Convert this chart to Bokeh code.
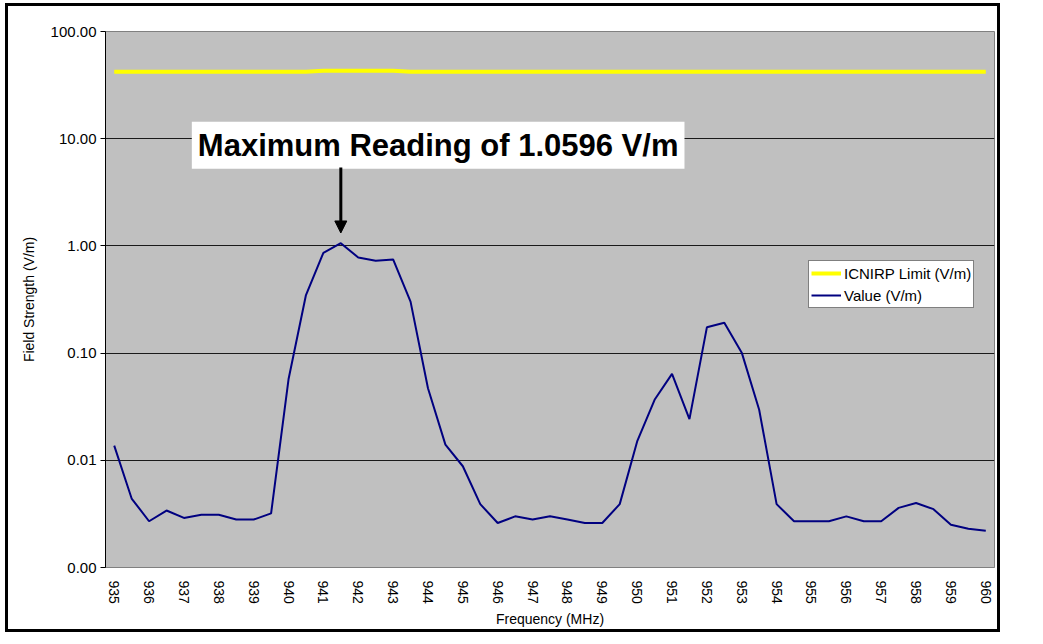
import math
from bokeh.plotting import figure
from bokeh.models import (Range1d, FixedTicker, PrintfTickFormatter, Legend,
                          LegendItem, Label, Arrow, NormalHead)
from bokeh.embed import file_html
from bokeh.resources import INLINE

FONT = "Liberation Sans"

freq = [935.0, 935.5, 936.0, 936.5, 937.0, 937.5, 938.0, 938.5, 939.0, 939.5,
        940.0, 940.5, 941.0, 941.5, 942.0, 942.5, 943.0, 943.5, 944.0, 944.5,
        945.0, 945.5, 946.0, 946.5, 947.0, 947.5, 948.0, 948.5, 949.0, 949.5,
        950.0, 950.5, 951.0, 951.5, 952.0, 952.5, 953.0, 953.5, 954.0, 954.5,
        955.0, 955.5, 956.0, 956.5, 957.0, 957.5, 958.0, 958.5, 959.0, 959.5,
        960.0]

value = [0.0137, 0.0044, 0.0027, 0.0034, 0.0029, 0.0031, 0.0031, 0.0028, 0.0028, 0.0032,
         0.057, 0.348, 0.863, 1.0596, 0.78, 0.727, 0.748, 0.302, 0.047, 0.014,
         0.0088, 0.0039, 0.0026, 0.0030, 0.0028, 0.0030, 0.0028, 0.0026, 0.0026, 0.0039,
         0.015, 0.0367, 0.064, 0.0242, 0.174, 0.192, 0.101, 0.0296, 0.0039, 0.0027,
         0.0027, 0.0027, 0.0030, 0.0027, 0.0027, 0.0036, 0.0040, 0.0035, 0.0025, 0.0023,
         0.0022]

limit = [42.2, 42.2, 42.2, 42.2, 42.2, 42.2, 42.2, 42.2, 42.2, 42.2,
         42.2, 42.2, 43.0, 43.0, 43.0, 43.0, 43.0, 42.2, 42.2, 42.2,
         42.2, 42.2, 42.2, 42.2, 42.2, 42.2, 42.2, 42.2, 42.2, 42.2,
         42.2, 42.2, 42.2, 42.2, 42.2, 42.2, 42.2, 42.2, 42.2, 42.2,
         42.2, 42.2, 42.2, 42.2, 42.2, 42.2, 42.2, 42.2, 42.2, 42.2,
         42.2]

x_ticks = [935, 936, 937, 938, 939, 940, 941, 942, 943, 944, 945, 946, 947,
           948, 949, 950, 951, 952, 953, 954, 955, 956, 957, 958, 959, 960]
y_ticks = [0.001, 0.01, 0.1, 1, 10, 100]

W, H = 989, 623

p = figure(width=W, height=H, y_axis_type="log",
           x_range=Range1d(934.75, 960.25), y_range=Range1d(0.001, 100),
           output_backend="svg", toolbar_location=None,
           min_border_left=97, min_border_top=25, min_border_right=3,
           min_border_bottom=61)
p.styles = {"outline": "3px solid black", "margin-left": "8px", "margin-top": "6px"}
p.background_fill_color = "#C0C0C0"
p.border_fill_color = "white"
p.outline_line_color = "#808080"

# grid
p.xgrid.grid_line_color = None
p.ygrid.grid_line_color = "#1a1a1a"
p.ygrid.grid_line_width = 1
p.ygrid.minor_grid_line_color = None

# y axis
p.yaxis.ticker = FixedTicker(ticks=y_ticks, minor_ticks=[])
p.yaxis.formatter = PrintfTickFormatter(format="%.2f")
p.yaxis.axis_label = "Field Strength (V/m)"
p.yaxis.axis_label_text_font = FONT
p.yaxis.axis_label_text_font_style = "normal"
p.yaxis.axis_label_text_font_size = "14px"
p.yaxis.axis_label_text_color = "black"
p.yaxis.axis_label_standoff = 11
p.yaxis.major_label_text_font = FONT
p.yaxis.major_label_text_font_size = "15px"
p.yaxis.major_label_text_color = "black"
p.yaxis.major_label_standoff = 4
p.yaxis.axis_line_color = "black"
p.yaxis.major_tick_line_color = "black"
p.yaxis.major_tick_out = 5
p.yaxis.major_tick_in = 0
p.yaxis.minor_tick_line_color = None

# x axis
p.xaxis.ticker = FixedTicker(ticks=x_ticks)
p.xaxis.major_label_orientation = -math.pi / 2
p.xaxis.axis_label = "Frequency (MHz)"
p.xaxis.axis_label_text_font = FONT
p.xaxis.axis_label_text_font_style = "normal"
p.xaxis.axis_label_text_font_size = "14px"
p.xaxis.axis_label_text_color = "black"
p.xaxis.axis_label_standoff = 4
p.xaxis.major_label_text_font = FONT
p.xaxis.major_label_text_font_size = "14px"
p.xaxis.major_label_text_color = "black"
p.xaxis.major_label_standoff = 7
p.xaxis.axis_line_color = "#808080"
p.xaxis.major_tick_line_color = None
p.xaxis.minor_tick_line_color = None

r_lim = p.line(freq, limit, line_color="#FFFF00", line_width=4)
r_val = p.line(freq, value, line_color="#000080", line_width=2)

legend = Legend(items=[LegendItem(label="ICNIRP Limit (V/m)", renderers=[r_lim]),
                       LegendItem(label="Value (V/m)", renderers=[r_val])],
                location=(703, 259))
legend.label_text_font = FONT
legend.label_text_font_size = "15px"
legend.label_text_color = "black"
legend.glyph_width = 30
legend.glyph_height = 20
legend.label_height = 20
legend.label_standoff = 3
legend.padding = 2
legend.spacing = 2
legend.margin = 0
legend.border_line_color = "black"
legend.border_line_width = 1
legend.background_fill_color = "white"
legend.background_fill_alpha = 1
p.add_layout(legend, "center")

# annotation for maximum
imax = value.index(max(value))
xmax = freq[imax]
vmax = value[imax]
lab = Label(x=xmax, y=8.7, x_offset=-149, text="Maximum Reading of %.4f V/m" % vmax,
            text_font=FONT, text_font_size="31px", text_font_style="bold",
            text_align="left", text_baseline="middle", text_color="black",
            background_fill_color="white", background_fill_alpha=1, padding=6)
p.add_layout(lab)
arrow = Arrow(end=NormalHead(size=12, fill_color="black", line_color="black"),
              x_start=xmax, y_start=5.4, x_end=xmax, y_end=1.32,
              line_width=3, line_color="black")
p.add_layout(arrow)

open("out.html", "w").write(file_html(p, INLINE))
